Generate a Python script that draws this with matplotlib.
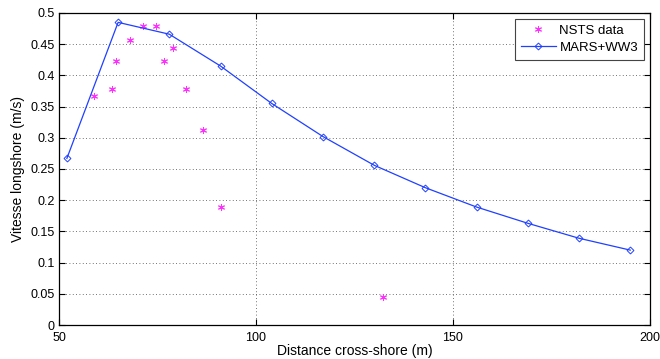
import matplotlib
matplotlib.use("Agg")
import matplotlib.pyplot as plt

plt.rcParams['font.family'] = ['Liberation Sans', 'DejaVu Sans']

nsts_x = [58.9, 63.4, 64.5, 67.9, 71.2, 74.5, 76.7, 79.0, 82.3, 86.6, 91.1, 132.3]
nsts_y = [0.367, 0.378, 0.423, 0.456, 0.479, 0.479, 0.423, 0.444, 0.378, 0.312, 0.189, 0.045]

model_x = [52, 65, 78, 91, 104, 117, 130, 143, 156, 169, 182, 195]
model_y = [0.267, 0.485, 0.466, 0.415, 0.355, 0.302, 0.256, 0.220, 0.189, 0.163, 0.139, 0.120]

xticks = [50, 100, 150, 200]
yticks = [0, 0.05, 0.1, 0.15, 0.2, 0.25, 0.3, 0.35, 0.4, 0.45, 0.5]
ytick_labels = ['0', '0.05', '0.1', '0.15', '0.2', '0.25', '0.3', '0.35', '0.4', '0.45', '0.5']

fig = plt.figure(figsize=(6.6, 3.59), dpi=100)
ax = fig.add_axes([0.0894, 0.0947, 0.8954, 0.8691])

ax.plot(nsts_x, nsts_y, linestyle='none', marker=(6, 2, 0), color='#ff30ff',
        markersize=5, markeredgewidth=0.7, label='NSTS data')
ax.plot(model_x, model_y, color='#2040ff', linewidth=0.9, marker='D',
        markersize=3.5, markerfacecolor='none', markeredgecolor='#2040ff',
        markeredgewidth=0.7, label='MARS+WW3')

ax.set_xlim(50, 200)
ax.set_ylim(0, 0.5)
ax.set_xticks(xticks)
ax.set_yticks(yticks)
ax.set_yticklabels(ytick_labels)
ax.grid(True, linestyle=(0, (1, 3)), color='#444444', linewidth=0.6)
ax.tick_params(direction='in', top=True, right=True, labelsize=9, length=4, width=0.8)
ax.tick_params(axis='x', pad=5)
ax.tick_params(axis='y', pad=3)
for s in ax.spines.values():
    s.set_linewidth(0.9)

ax.set_xlabel('Distance cross-shore (m)', fontsize=10, labelpad=0)
ax.set_ylabel('Vitesse longshore (m/s)', fontsize=10, labelpad=4)

leg = ax.legend(loc='upper right', fontsize=9.5, fancybox=False, framealpha=1,
                edgecolor='#444444', borderpad=0.45, handlelength=2.6,
                handletextpad=0.3, labelspacing=0.35, borderaxespad=0.45)
leg.get_frame().set_linewidth(0.8)

fig.savefig('out.png', dpi=100)
